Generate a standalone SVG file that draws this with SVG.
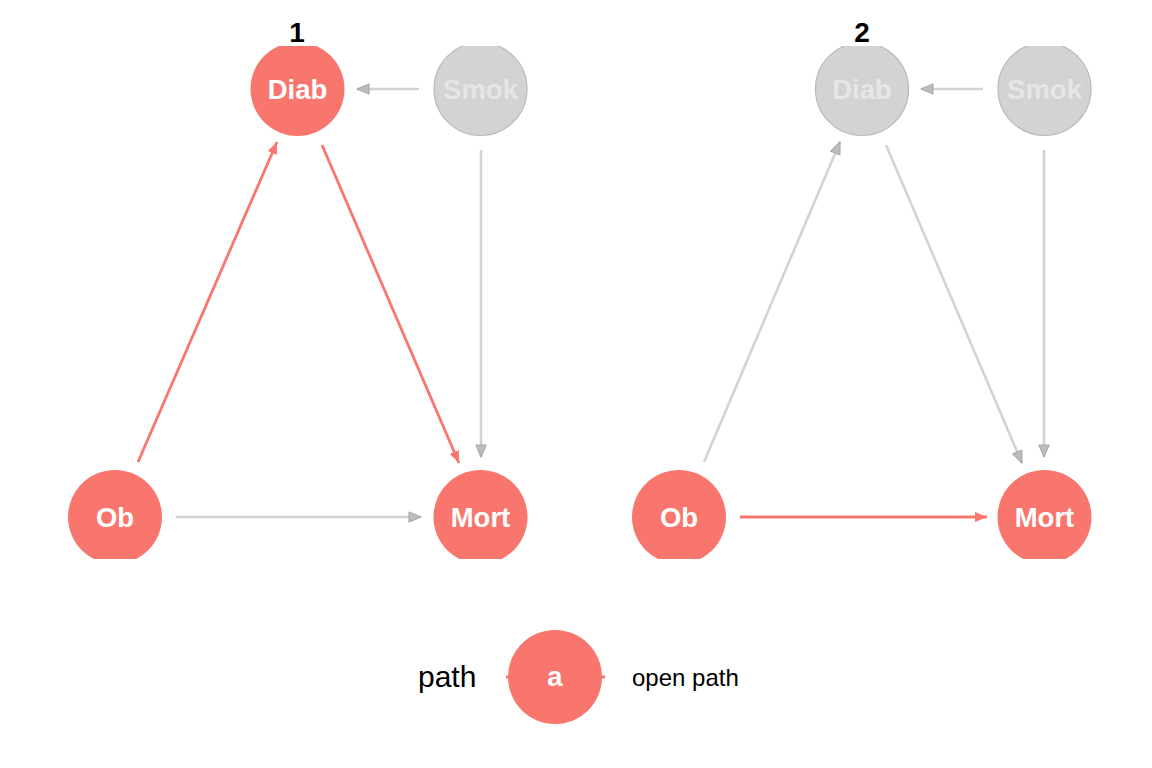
<svg xmlns="http://www.w3.org/2000/svg" width="1152" height="768" viewBox="0 0 1152 768">
<style>
.bg{fill:#ffffff}
.red{fill:#f8766d}
.grey{fill:#d3d3d3;stroke:#b9b9b9;stroke-width:1.2}
.lab{font-family:"Liberation Sans",Arial,sans-serif;font-weight:bold;font-size:27.5px;text-anchor:middle}
.lw{fill:#ffffff}
.lg{fill:#e6e6e6}
.ttl{font-family:"Liberation Sans",Arial,sans-serif;font-weight:bold;font-size:28px;text-anchor:middle;fill:#000}
.er{stroke:#f8766d;stroke-width:2.8;fill:none}
.eg{stroke:#d3d3d3;stroke-width:2.6;fill:none}
.leg{font-family:"Liberation Sans",Arial,sans-serif;fill:#000}
</style>
<defs>
<clipPath id="pc"><rect x="0" y="46" width="1152" height="513"/></clipPath>
<marker id="ar" viewBox="0 0 12 10" refX="12" refY="5" markerWidth="12" markerHeight="10" markerUnits="userSpaceOnUse" orient="auto">
<path d="M0,0 L12,5 L0,10 Z" fill="#f8766d"/>
</marker>
<marker id="ag" viewBox="0 0 14 12" refX="13" refY="6" markerWidth="14" markerHeight="12" markerUnits="userSpaceOnUse" orient="auto">
<path d="M1,1 L13,6 L1,11 Z" fill="#bdbdbd" stroke="#aaaaaa" stroke-width="1.2" stroke-linejoin="round"/>
</marker>
</defs>
<rect class="bg" x="0" y="0" width="1152" height="768"/>
<text class="ttl" x="297" y="42">1</text>
<text class="ttl" x="862" y="42">2</text>
<g id="connectors">
<line class="eg" x1="419" y1="89" x2="357" y2="89" marker-end="url(#ag)"/>
<line class="eg" x1="481" y1="150" x2="481" y2="457" marker-end="url(#ag)"/>
<line class="eg" x1="176" y1="517" x2="421" y2="517" marker-end="url(#ag)"/>
<line class="er" x1="138" y1="462" x2="277" y2="142" marker-end="url(#ar)"/>
<line class="er" x1="322" y1="145" x2="459" y2="463" marker-end="url(#ar)"/>
<line class="eg" x1="983" y1="89" x2="921" y2="89" marker-end="url(#ag)"/>
<line class="eg" x1="1044" y1="150" x2="1044" y2="457" marker-end="url(#ag)"/>
<line class="eg" x1="704" y1="462" x2="840" y2="142" marker-end="url(#ag)"/>
<line class="eg" x1="886" y1="145" x2="1022" y2="463" marker-end="url(#ag)"/>
<line class="er" x1="740" y1="517" x2="987" y2="517" marker-end="url(#ar)"/>
</g>
<g clip-path="url(#pc)">
<g id="p1-diab"><circle class="red" cx="297.5" cy="89" r="47"/><text class="lab lw" x="297.5" y="99">Diab</text></g>
<g id="p1-smok"><circle class="grey" cx="480.5" cy="89" r="46.5"/><text class="lab lg" x="480.5" y="99">Smok</text></g>
<g id="p1-ob"><circle class="red" cx="115" cy="517" r="47"/><text class="lab lw" x="115" y="527">Ob</text></g>
<g id="p1-mort"><circle class="red" cx="480.5" cy="517" r="47"/><text class="lab lw" x="480.5" y="527">Mort</text></g>
<g id="p2-diab"><circle class="grey" cx="862" cy="89" r="46.5"/><text class="lab lg" x="862" y="99">Diab</text></g>
<g id="p2-smok"><circle class="grey" cx="1044.5" cy="89" r="46.5"/><text class="lab lg" x="1044.5" y="99">Smok</text></g>
<g id="p2-ob"><circle class="red" cx="679" cy="517" r="47"/><text class="lab lw" x="679" y="527">Ob</text></g>
<g id="p2-mort"><circle class="red" cx="1044.5" cy="517" r="47"/><text class="lab lw" x="1044.5" y="527">Mort</text></g>
</g>
<g id="legend">
<text class="leg" x="418" y="687" font-size="30">path</text>
<line x1="506" y1="677" x2="605" y2="677" stroke="#f8766d" stroke-width="3"/>
<circle class="red" cx="555" cy="677" r="47"/>
<text class="lab lw" x="555" y="686" font-size="25">a</text>
<text class="leg" x="632" y="686" font-size="24">open path</text>
</g>
</svg>
